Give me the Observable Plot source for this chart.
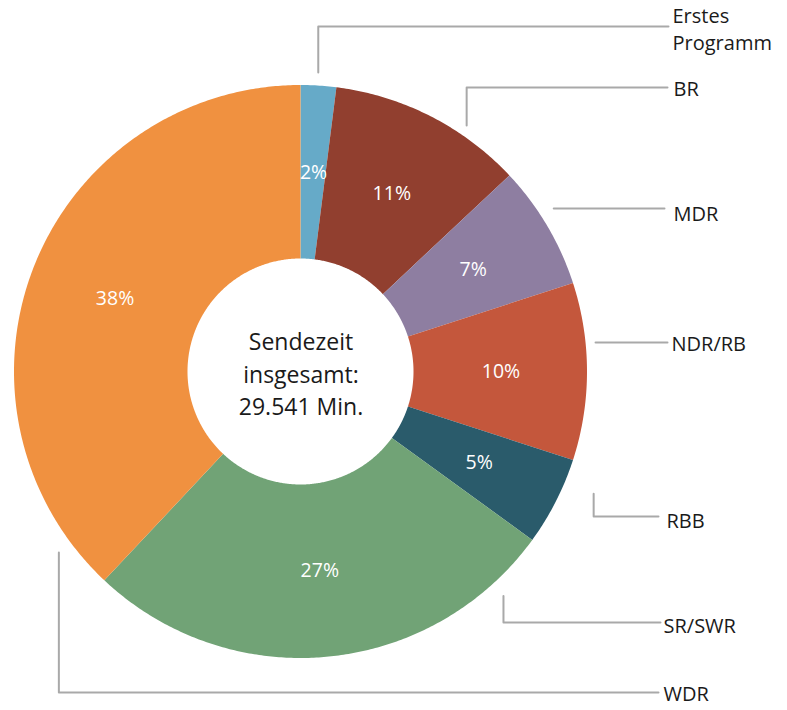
<!DOCTYPE html>
<html>
<head>
<meta charset="utf-8">
<script src="https://cdn.jsdelivr.net/npm/d3@7"></script>
<script src="https://cdn.jsdelivr.net/npm/@observablehq/plot@0.6"></script>
<style>
  html, body { margin: 0; padding: 0; background: #ffffff; }
  #chart { width: 787px; height: 710px; }
</style>
</head>
<body>
<div id="chart"></div>
<script>
// ---- data ----
const names = ["Erstes Programm", "BR", "MDR", "NDR/RB", "RBB", "SR/SWR", "WDR"];
const shares = [2, 11, 7, 10, 5, 27, 38];
const colors = ["#66aac8", "#913f2f", "#8e7ea1", "#c4573c", "#2a5b6b", "#71a376", "#f09140"];
const calloutLabels = ["Erstes\nProgramm", "BR", "MDR", "NDR/RB", "RBB", "SR/SWR", "WDR"];
const centerLines = ["Sendezeit", "insgesamt:", "29.541 Min."];

// ---- layout ----
const W = 787, H = 710;
const cx = 300.5, cy = 371.5, R = 286.5, r0 = 113, labelR = 200;
// leader lines: anchor angle (deg, clockwise from top), anchor distance, line y, line end x, text x, text y
const leaderLayout = [
  {angle: 3.3,   dist: 300, lineY: 26,  endX: 668, textX: 672, textY: 27.5},
  {angle: 33.9,  dist: 297, lineY: 87,  endX: 667, textX: 673, textY: 87},
  {angle: 57.1,  dist: 301, lineY: 208, endX: 664, textX: 673, textY: 212},
  {angle: 84.3,  dist: 296, lineY: 342, endX: 667, textX: 671, textY: 342},
  {angle: 112.6, dist: 317, lineY: 516, endX: 658, textX: 666, textY: 519},
  {angle: 137.9, dist: 302, lineY: 622, endX: 660, textX: 663, textY: 624},
  {angle: 233.3, dist: 302, lineY: 692, endX: 658, textX: 663, textY: 692}
];

const total = d3.sum(shares);
const rad = d => d * Math.PI / 180;

// slice polygons (outer arc x1/y1, inner arc x2/y2)
const slicePts = [];
const labelPts = [];
let acc = 0;
names.forEach((name, i) => {
  const a0 = acc / total * 2 * Math.PI;
  acc += shares[i];
  const a1 = acc / total * 2 * Math.PI;
  const n = Math.max(8, Math.ceil((a1 - a0) / rad(0.5)));
  for (let k = 0; k <= n; k++) {
    const a = a0 + (a1 - a0) * k / n;
    slicePts.push({
      name,
      x1: cx + R * Math.sin(a), y1: cy - R * Math.cos(a),
      x2: cx + r0 * Math.sin(a), y2: cy - r0 * Math.cos(a)
    });
  }
  const am = (a0 + a1) / 2;
  labelPts.push({name, text: shares[i] + "%", x: cx + labelR * Math.sin(am), y: cy - labelR * Math.cos(am)});
});

// leader polylines
const leaderPts = [];
const calloutRows = [];
names.forEach((name, i) => {
  const L = leaderLayout[i];
  const ax = cx + L.dist * Math.sin(rad(L.angle));
  const ay = cy - L.dist * Math.cos(rad(L.angle));
  if (Math.abs(ay - L.lineY) > 6) {
    leaderPts.push({name, x: ax, y: ay});
    leaderPts.push({name, x: ax, y: L.lineY});
  } else {
    leaderPts.push({name, x: ax, y: L.lineY});
  }
  leaderPts.push({name, x: L.endX, y: L.lineY});
  calloutRows.push({name, text: calloutLabels[i], x: L.textX, y: L.textY});
});

const centerRows = [{text: centerLines.join("\n"), x: cx, y: cy}];

const chart = Plot.plot({
  width: W,
  height: H,
  margin: 0,
  style: {fontFamily: "'Open Sans', sans-serif", background: "#ffffff"},
  x: {domain: [0, W], range: [0, W], axis: null},
  y: {domain: [0, H], range: [0, H], axis: null},
  color: {domain: names, range: colors},
  marks: [
    Plot.area(slicePts, {x1: "x1", y1: "y1", x2: "x2", y2: "y2", z: "name", fill: "name", curve: "linear"}),
    Plot.text(labelPts, {x: "x", y: "y", text: "text", fill: "#ffffff", fontSize: 19.5}),
    Plot.line(leaderPts, {x: "x", y: "y", z: "name", stroke: "#a9a9a9", strokeWidth: 2, curve: "linear"}),
    Plot.text(calloutRows, {x: "x", y: "y", text: "text", textAnchor: "start", fill: "#1a1a1a", fontSize: 20, lineHeight: 1.35}),
    Plot.text(centerRows, {x: "x", y: "y", text: "text", fill: "#1a1a1a", fontSize: 23, lineHeight: 1.43})
  ]
});

document.getElementById("chart").appendChild(chart);
</script>
</body>
</html>
